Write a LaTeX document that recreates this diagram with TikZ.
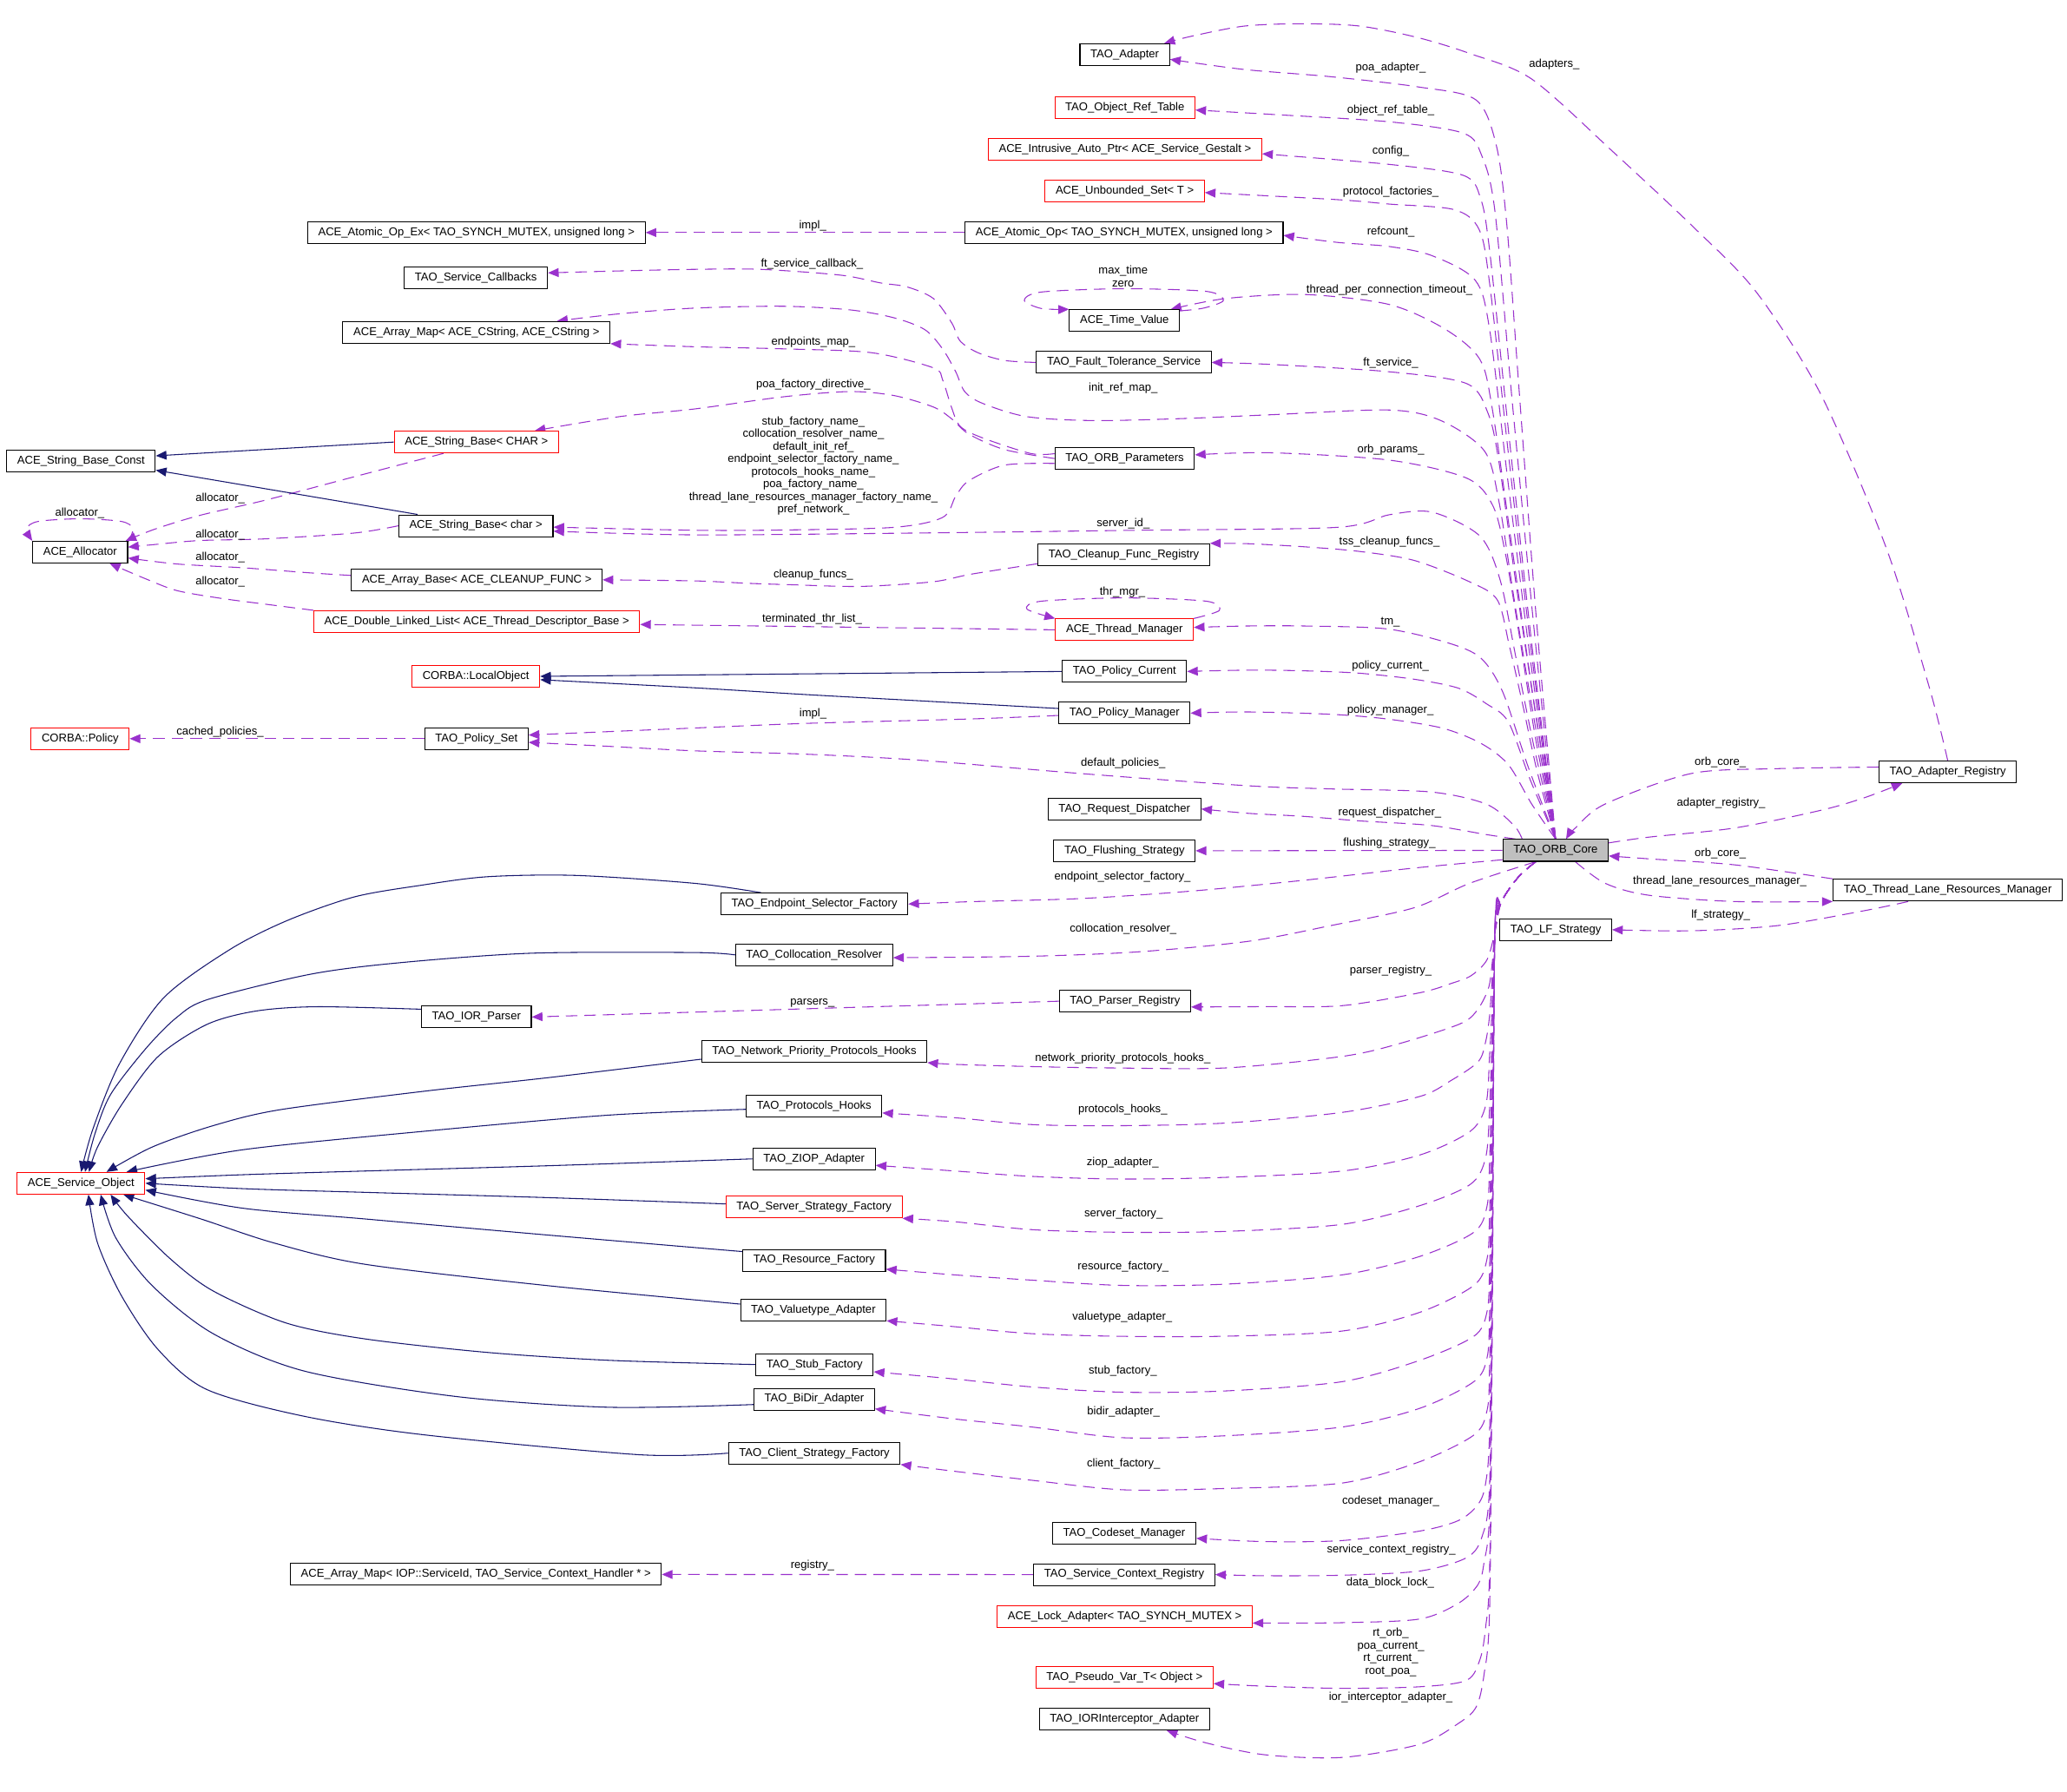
\documentclass[tikz,border=0pt]{standalone}
\usepackage{fontspec}
\usepackage{xcolor}
\usepackage{tikz}
\usetikzlibrary{arrows.meta, backgrounds}
\newfontfamily\dgfam{Liberation Sans}
\newcommand{\dgf}{\dgfam\fontsize{4.9}{5.45}\selectfont}
\definecolor{memc}{RGB}{154,50,205}
\definecolor{inhc}{RGB}{25,25,112}
\definecolor{corec}{RGB}{191,191,191}

\tikzset{
  cls/.style={draw=black, line width=0.4pt, fill=white, inner xsep=0.16cm, inner ysep=0pt, minimum height=0.33cm, font=\dgf},
  rcls/.style={cls, draw=red},
  mem/.style={draw=memc, line width=0.4pt, dash pattern=on 5pt off 3pt, -{Triangle[length=4.6pt,width=3.8pt]}},
  inh/.style={draw=inhc, line width=0.4pt, -{Triangle[length=4.6pt,width=3.8pt]}},
  lbl/.style={font=\dgf, inner sep=0pt, text height=3.6pt, text depth=1.1pt},
  lbls/.style={font=\dgf, inner sep=0pt, align=center},
}

\begin{document}
\begin{tikzpicture}[x=0.02cm, y=-0.02cm]

\useasboundingbox (0,0) rectangle (1568,1359);
\begin{scope}[on background layer]
  \fill[white] (0,0) rectangle (1568,1359);
\end{scope}

%% -- classes, left columns ------------------------------------------
\node[cls]  (bsc)   at (61.5,349.7) {ACE\_String\_Base\_Const};
\node[cls]  (alloc) at (60.8,418.8) {ACE\_Allocator};
\node[rcls] (cpol)  at (60.8,560.3) {CORBA::Policy};
\node[rcls] (so)    at (61.5,897.5) {ACE\_Service\_Object};

\node[cls]  (aopex)   at (361.4,176.4) {ACE\_Atomic\_Op\_Ex< TAO\_SYNCH\_MUTEX, unsigned long >};
\node[cls]  (scb)     at (361,210.8)   {TAO\_Service\_Callbacks};
\node[cls]  (amap)    at (361.4,252.1) {ACE\_Array\_Map< ACE\_CString, ACE\_CString >};
\node[rcls] (sbCHAR)  at (361.4,335.3) {ACE\_String\_Base< CHAR >};
\node[cls]  (sbchar)  at (361,398.8)   {ACE\_String\_Base< char >};
\node[cls]  (abase)   at (361.7,439.8) {ACE\_Array\_Base< ACE\_CLEANUP\_FUNC >};
\node[rcls] (dll)     at (361.7,471.5) {ACE\_Double\_Linked\_List< ACE\_Thread\_Descriptor\_Base >};
\node[rcls] (lobj)    at (361,513)     {CORBA::LocalObject};
\node[cls]  (pset)    at (361.4,560.3) {TAO\_Policy\_Set};
\node[cls]  (iorp)    at (361.4,771.4) {TAO\_IOR\_Parser};
\node[cls]  (amapiop) at (361,1194.2)  {ACE\_Array\_Map< IOP::ServiceId, TAO\_Service\_Context\_Handler * >};

\node[cls]  (esf)    at (617.8,685.7)  {TAO\_Endpoint\_Selector\_Factory};
\node[cls]  (colres) at (617.6,724.3)  {TAO\_Collocation\_Resolver};
\node[cls]  (npph)   at (617.7,797.4)  {TAO\_Network\_Priority\_Protocols\_Hooks};
\node[cls]  (phooks) at (617.5,838.7)  {TAO\_Protocols\_Hooks};
\node[cls]  (ziop)   at (617.5,879)    {TAO\_ZIOP\_Adapter};
\node[rcls] (ssf)    at (617.5,915.5)  {TAO\_Server\_Strategy\_Factory};
\node[cls]  (rfac)   at (617.6,956)    {TAO\_Resource\_Factory};
\node[cls]  (vtad)   at (617,994)      {TAO\_Valuetype\_Adapter};
\node[cls]  (stubf)  at (617.9,1035)   {TAO\_Stub\_Factory};
\node[cls]  (bidir)  at (617.7,1061.3) {TAO\_BiDir\_Adapter};
\node[cls]  (csf)    at (617.7,1102.2) {TAO\_Client\_Strategy\_Factory};

%% -- classes, member column -----------------------------------------
\node[cls]  (adapter) at (853.2,41.4)  {TAO\_Adapter};
\node[rcls] (ort)     at (853.3,81.6)  {TAO\_Object\_Ref\_Table};
\node[rcls] (iap)     at (853.4,113)   {ACE\_Intrusive\_Auto\_Ptr< ACE\_Service\_Gestalt >};
\node[rcls] (uset)    at (853.2,145)   {ACE\_Unbounded\_Set< T >};
\node[cls]  (aop)     at (852.7,176.4) {ACE\_Atomic\_Op< TAO\_SYNCH\_MUTEX, unsigned long >};
\node[cls]  (tv)      at (853,243.2)   {ACE\_Time\_Value};
\node[cls]  (fts)     at (852.5,274.9) {TAO\_Fault\_Tolerance\_Service};
\node[cls]  (orbp)    at (853.2,347.8) {TAO\_ORB\_Parameters};
\node[cls]  (cfr)     at (852.5,420.7) {TAO\_Cleanup\_Func\_Registry};
\node[rcls] (tmgr)    at (853,477.7)   {ACE\_Thread\_Manager};
\node[cls]  (pcur)    at (853,509.3)   {TAO\_Policy\_Current};
\node[cls]  (pman)    at (853,540.9)   {TAO\_Policy\_Manager};
\node[cls]  (rdisp)   at (853,613.6)   {TAO\_Request\_Dispatcher};
\node[cls]  (flush)   at (853,645.3)   {TAO\_Flushing\_Strategy};
\node[cls]  (preg)    at (853.4,759.4) {TAO\_Parser\_Registry};
\node[cls]  (csm)     at (852.8,1163)  {TAO\_Codeset\_Manager};
\node[cls]  (scr)     at (852.8,1194.3) {TAO\_Service\_Context\_Registry};
\node[rcls] (lock)    at (853.2,1226)  {ACE\_Lock\_Adapter< TAO\_SYNCH\_MUTEX >};
\node[rcls] (pvar)    at (853,1272.3)  {TAO\_Pseudo\_Var\_T< Object >};
\node[cls]  (iorint)  at (853,1304)    {TAO\_IORInterceptor\_Adapter};

%% -- core and right side --------------------------------------------
\node[cls, fill=corec] (core) at (1180,645) {TAO\_ORB\_Core};
\node[cls] (lfs)  at (1180.2,705.2) {TAO\_LF\_Strategy};
\node[cls] (areg) at (1477.5,585.5) {TAO\_Adapter\_Registry};
\node[cls] (tlrm) at (1477.5,675.2) {TAO\_Thread\_Lane\_Resources\_Manager};
\coordinate (cb) at ([xshift=-0.3cm]core.south);

\begin{scope}[on background layer]
%% -- core -> members above ------------------------------------------
\draw[mem] plot[smooth] coordinates {(core.north) (1165,464) (1152,291) (1143,170) (1135,110) (1119.5,75.7) (1075.6,65.9) (1009.7,58.2) (943.8,52.7) (adapter.-6)};
\draw[mem] plot[smooth] coordinates {(core.north) (1163,470) (1147,303) (1134,160) (1124,118) (1110,101) (1054,92.4) (963.6,86.7) (ort.-2)};
\draw[mem] plot[smooth] coordinates {(core.north) (1161,480) (1144,324) (1130,190) (1123,150) (1110,133) (1054,124.7) (iap.-2)};
\draw[mem] plot[smooth] coordinates {(core.north) (1161,489) (1144,342) (1130,215) (1122,174) (1103,159) (1054,154.8) (1014,151.4) (uset.-1)};
\draw[mem] plot[smooth] coordinates {(core.north) (1161,501) (1144,366) (1130,250) (1119,212.5) (1086.5,194) (1054,187) (1014,183.8) (aop.-1)};
\draw[mem] plot[smooth] coordinates {(core.north) (1162,522) (1146,408) (1132,310) (1122.6,272.6) (1096,249.5) (1054,231) (990.5,223.4) (930,226.4) ([xshift=-0.14cm]tv.north east)};
\draw[mem] plot[smooth] coordinates {(core.north) (1164,536) (1149,436) (1137,350) (1129,314) (1112.7,291) (1054,282) (963.6,276.4) (fts.east)};
\draw[mem] plot[smooth] coordinates {(core.north) (1164,547) (1149,457) (1137,380) (1126,342) (1093,319) (1054,311) (963.6,314.6) (896.4,317.5) (829.2,319) (778.8,316) (745,305.8) (731.8,297) (725,282) (715,264.6) (701.5,250) (678,241) (644.4,235) (594,232.3) (526.8,233.7) (470,238) (amap.8)};
\draw[mem] plot[smooth] coordinates {(core.north) (1165,561) (1153,485) (1142,420) (1132.4,383.5) (1112.7,362.7) (1054,349) (963.6,343.4) (orbp.3)};
\draw[mem] plot[smooth] coordinates {(core.north) (1164,568) (1150,499) (1138,440) (1122.6,406.6) (1086.5,388.5) (1054,390.4) (1014,400) (862.8,402.2) (694.8,404.3) (526.8,405.7) (sbchar.-4)};
\draw[mem] plot[smooth] coordinates {(core.north) (1166,585) (1155,534) (1145,490) (1135.8,455) (1114.8,441.3) (1072.8,425.1) (1030.8,418.2) (988.8,414.7) (946.8,412.4) (cfr.north east)};
\draw[mem] plot[smooth] coordinates {(core.north) (1159,581) (1140,525) (1123.2,499) (1098,487.5) (1051.8,477) (988.8,474.8) (946.8,474.8) (tmgr.2)};
\draw[mem] plot[smooth] coordinates {(core.north) (1161,592) (1144.2,547.6) (1127.4,533.7) (1106.4,522) (1072.8,515.2) (1030.8,510.6) (988.8,508.8) (946.8,508.3) (pcur.east)};
\draw[mem] plot[smooth] coordinates {(core.north) (1162,610) (1144.2,580) (1123.2,563.7) (1093.8,552.2) (1051.8,545.3) (1009.8,541.8) (946.8,540) (pman.east)};
\draw[mem] plot[smooth] coordinates {([xshift=0.3cm]core.north west) (1148.4,626) (1127.4,609.9) (1085.4,600.7) (1009.8,598.4) (946.8,596) (820.8,586.8) (694.8,576.4) (610,572) (526.8,569.5) (460,566) (pset.-4)};
\draw[mem] plot[smooth] coordinates {([xshift=0.2cm]core.north west) (1127.4,633) (1085.4,626.1) (1030.8,622.6) (988.8,619.2) (946.8,616.9) (rdisp.east)};
\draw[mem] (core.west) -- (flush.east);
\draw[mem] plot[smooth] coordinates {(core.190) (1072.8,658.4) (988.8,667.7) (904.8,675.8) (820.8,681.5) (736.8,683.9) (esf.east)};
\draw[mem] plot[smooth] coordinates {(cb) (1114.8,670) (1072.8,688.5) (1009.8,702) (946.8,714) (862.8,722) (778.8,725.4) (colres.-2)};

%% -- right side -----------------------------------------------------
\draw[mem] plot[smooth] coordinates {(core.8) (1250.5,635) (1316,628) (1381.7,614.5) (1414.5,605) (areg.194)};
\draw[mem] plot[smooth] coordinates {(areg.176) (1349,583) (1283,586.7) (1217.7,609.8) (1194.7,628.3) ([xshift=0.16cm]core.north)};
\draw[mem] plot[smooth] coordinates {(areg.north) (1463.7,522) (1431,416) (1381.7,300) (1332.5,221.8) (1283.3,171) (1224,115.5) (1162,60) (1115,40.6) (1075.5,28.5) (1031.7,19.8) (987.8,18) (943.8,19.8) (904.2,27.4) (adapter.16)};
\draw[mem] plot[smooth] coordinates {(tlrm.north west) (1316,656) (1250.5,651.4) (core.-6)};
\draw[mem] plot[smooth] coordinates {([xshift=0.3cm]core.south) (1217.7,670) (1250.5,679) (1316,683.8) (tlrm.south west)};
\draw[mem] plot[smooth] coordinates {([xshift=-0.6cm]tlrm.south) (1414.5,690.7) (1349,702) (1283.3,706) (lfs.east)};

%% -- core -> members below ------------------------------------------
\draw[mem] plot[smooth] coordinates {(cb) (1152,665) (1139,684) (1134,707) (1128,728) (1116,740) (1100.7,746) (1077,753) (1018,762.8) (960,763.5) (preg.-5)};
\draw[mem] plot[smooth] coordinates {(cb) (1152,665) (1139,684) (1134,707) (1132,730) (1129,750) (1120,767) (1106.6,777) (1060,792) (1018,801.3) (930,810) (842,810) (783,809) (724,807.3) (npph.south east)};
\draw[mem] plot[smooth] coordinates {(cb) (1152,665) (1139,684) (1134,707) (1132,740) (1130,770) (1127,790) (1121.3,805.3) (1100,820) (1077.2,831.6) (1018.4,843.7) (930.2,851.8) (851.7,853.8) (783.2,853) (724.4,847.8) (phooks.-6)};
\draw[mem] plot[smooth] coordinates {(cb) (1152,665) (1139,684) (1134,707) (1132,760) (1130,800) (1127.2,837.7) (1115.4,858) (1077.2,876) (1018.4,888.2) (930,893) (851.7,894.3) (783.2,892.3) (724.4,888.2) (ziop.-6)};
\draw[mem] plot[smooth] coordinates {(cb) (1152,665) (1139,684) (1134,707) (1132,780) (1130,840) (1127,878) (1115.4,898.3) (1077,914.5) (1018,928.7) (930,934) (852,934.7) (783.2,932.7) (724.4,926.7) (ssf.south east)};
\draw[mem] plot[smooth] coordinates {(cb) (1152,665) (1139,684) (1134,707) (1132,800) (1130,880) (1128,915) (1118,934.7) (1077,953) (1018,967) (930,974) (852,975) (783,971) (724.4,967) (rfac.-7)};
\draw[mem] plot[smooth] coordinates {(cb) (1152,665) (1139,684) (1134,707) (1132,820) (1130,920) (1128,955) (1118,975) (1077,995.4) (1018,1009.6) (930,1013.5) (852,1013.6) (783,1011.6) (724.4,1006.3) (vtad.-8)};
\draw[mem] plot[smooth] coordinates {(cb) (1152,665) (1139,684) (1134,707) (1132,850) (1130,960) (1128,995) (1118,1013.6) (1077,1031.8) (1018,1048) (930,1055) (852,1056) (783,1052) (724.4,1046) (stubf.-7)};
\draw[mem] plot[smooth] coordinates {(cb) (1152,665) (1139,684) (1134,707) (1132,880) (1130,995) (1128,1030) (1118,1048) (1077,1068.2) (1018,1082.4) (930,1089) (852,1090.5) (783,1082.4) (724.4,1076.3) (bidir.-9)};
\draw[mem] plot[smooth] coordinates {(cb) (1152,665) (1139,684) (1134,707) (1132,900) (1130,1035) (1128,1070) (1118,1088.5) (1077,1108.7) (1018,1124.9) (930,1129) (852,1130) (783,1122.8) (724.4,1116) (csf.south east)};
\draw[mem] plot[smooth] coordinates {(cb) (1152,665) (1139,684) (1134,707) (1132,930) (1130,1085) (1127,1124.9) (1121.3,1141) (1106.6,1153.2) (1077,1161.3) (1018,1168.5) (959.6,1169.3) (csm.-4)};
\draw[mem] plot[smooth] coordinates {(cb) (1152,665) (1139,684) (1134,707) (1132,950) (1130,1125) (1124.3,1165.3) (1112.5,1181.5) (1077,1191.6) (1018,1194.8) (960,1195.2) (scr.east)};
\draw[mem] plot[smooth] coordinates {(cb) (1152,665) (1139,684) (1134,707) (1132,970) (1130,1145) (1125.7,1185.5) (1121.3,1201.7) (1106.6,1215.9) (1077,1228) (1018,1230.8) (lock.-3)};
\draw[mem] plot[smooth] coordinates {(cb) (1152,665) (1139,684) (1134,707) (1132,990) (1130,1190) (1127,1234) (1122.8,1258.3) (1112.5,1274.5) (1077,1279.4) (1018,1280.6) (960,1279) (pvar.-4)};
\draw[mem] plot[smooth] coordinates {(cb) (1152,665) (1139,684) (1134,707) (1132,1010) (1130,1220) (1125.7,1270.5) (1119.8,1294.7) (1106.6,1307) (1077,1323) (1018,1333) (959.6,1331) (915,1322) (iorint.-15)};

%% -- members of members ---------------------------------------------
\draw[mem] (aop) -- (aopex);
\draw[mem] plot[smooth] coordinates {(fts.west) (762,273.4) (741.8,267.5) (728.4,258.7) (722,245) (708,226.4) (688,217.6) (668,214.6) (637.7,208.7) (577,204.3) (526.8,204.3) (470,205.5) (scb.4)};
\draw[mem] plot[smooth] coordinates {(orbp.176) (782,344) (745,332) (728.4,323.4) (721.7,308.7) (715,288) (708,279) (661,267.5) (594,264.6) (526.8,263) (amap.south east)};
\draw[mem] plot[smooth] coordinates {(orbp.180) (762,341) (735,329.3) (721.7,317.5) (708,308.7) (678,300) (644.4,297) (594,301) (526.8,310.2) (470,316) (sbCHAR.11)};
\draw[mem] plot[smooth] coordinates {(orbp.184) (762,352.8) (735,364.6) (725,376.3) (715,392.5) (678,400) (594,402) (526.8,402.2) (sbchar.-1)};
\draw[mem] plot[smooth] coordinates {(tv.10) (913,233.7) (928,227.9) (915,221) (852,219) (790,221.5) (777,227.9) (790,234) (tv.north west)};
\draw[mem] plot[smooth] coordinates {(tmgr.north east) (925,463) (915,456) (853,453.5) (790,456) (779,462) (tmgr.north west)};
\draw[mem] (tmgr.west) -- (dll.-1);
\draw[mem] plot[smooth] coordinates {(cfr.186) (736.8,435.5) (707.4,441.3) (652.8,444.8) (600,443.5) (568.8,442.5) (526.8,440.6) (abase.east)};
\draw[mem] plot[smooth] coordinates {(sbCHAR.199) (268.8,361.6) (201.6,379.3) (151.2,391) (117.6,401.3) (alloc.14)};
\draw[mem] plot[smooth] coordinates {(sbchar.west) (268.8,404.3) (201.6,408.7) (151.2,410) (117.6,413) (alloc.6)};
\draw[mem] plot[smooth] coordinates {(abase.178) (235,434.5) (184.8,430.7) (134.4,427.8) (alloc.-7)};
\draw[mem] plot[smooth] coordinates {(dll.north west) (201.6,458.3) (168,453.9) (134.4,448) (110.9,439.2) (alloc.-21)};
\draw[mem] plot[smooth] coordinates {(alloc.12) (100.8,401) (92,395.5) (60.5,393.5) (29,395.5) (20.2,401) (alloc.north west)};
\draw[mem] plot[smooth] coordinates {(pman.182) (736.8,545.3) (610.8,548.7) (526.8,552.2) (460,555) (pset.4)};
\draw[mem] (pset) -- (cpol);
\draw[mem] (preg.west) -- (iorp.east);
\draw[mem] (scr) -- (amapiop);

%% -- inheritance ----------------------------------------------------
\draw[inh] (sbCHAR.west) -- (bsc.4);
\draw[inh] (sbchar.169) -- (bsc.-7);
\draw[inh] (pcur.west) -- (lobj.east);
\draw[inh] plot[smooth] coordinates {(pman.176) (694.8,531.4) (610.8,526.8) (526.8,521.7) (lobj.-3)};
\draw[inh] plot[smooth] coordinates {(esf.168) (526.8,670) (436.8,664) (369.6,665) (319.2,671.5) (268.8,680.3) (218.4,698) (174.7,720) (124.3,756.7) (90.7,806.7) (70.6,856) (so.north)};
\draw[inh] plot[smooth] coordinates {(colres.west) (526.8,722.5) (403.2,723) (302.4,730.3) (235.2,739) (158,758) (134.4,771.4) (110.9,795) (84,830) (72,860) ([xshift=0.06cm]so.north)};
\draw[inh] plot[smooth] coordinates {(iorp.172) (240,763.6) (194,766.9) (157,777) (120,801.3) (92.4,837.7) (74,870) ([xshift=0.12cm]so.north)};
\draw[inh] plot[smooth] coordinates {(npph.184) (415.8,817.4) (323.4,827.5) (212.5,841.7) (161.7,853.8) (115.5,870) (so.24)};
\draw[inh] plot[smooth] coordinates {(phooks.183) (462,845.8) (323.4,857.9) (184.8,872) (so.14)};
\draw[inh] plot[smooth] coordinates {(ziop.west) (415.8,884.2) (277.2,888.2) (184.8,891) (so.4)};
\draw[inh] plot[smooth] coordinates {(ssf.178) (415.8,908.4) (277.2,904.4) (184.8,901.6) (so.east)};
\draw[inh] plot[smooth] coordinates {(rfac.173) (415.8,936.8) (277.2,924.6) (184.8,916.5) (so.-6)};
\draw[inh] plot[smooth] coordinates {(vtad.175) (415.8,975.2) (277.2,959) (207.9,942.8) (152.5,924.6) (so.-15)};
\draw[inh] plot[smooth] coordinates {(stubf.west) (462,1031.8) (369.6,1025.8) (277.2,1015.6) (217.1,1003.5) (161.7,979.2) (129.4,955) (97,922.6) (so.-21)};
\draw[inh] plot[smooth] coordinates {(bidir.185) (462,1067.4) (346.5,1059.3) (231,1040) (161.7,1011.6) (115.5,975.2) (87.8,938.8) (so.-30)};
\draw[inh] plot[smooth] coordinates {(csf.west) (485,1103.4) (323.4,1088.5) (231,1074.3) (157,1054) (120,1023.7) (92.4,983.3) (74,942.8) (so.-57)};
\end{scope}

%% -- edge labels ----------------------------------------------------
\node[lbl] (lpoa)  at (1055,51.5)  {poa\_adapter\_};
\node[lbl] (lort)  at (1055,84)    {object\_ref\_table\_};
\node[lbl] (lcfg)  at (1055,115)   {config\_};
\node[lbl] (lpf)   at (1055,145.5) {protocol\_factories\_};
\node[lbl] (lref)  at (1055,176)   {refcount\_};
\node[lbl] (ltpc)  at (1054,220)   {thread\_per\_connection\_timeout\_};
\node[lbl] (lfts)  at (1055,275.5) {ft\_service\_};
\node[lbl] (lirm)  at (852,294.6)  {init\_ref\_map\_};
\node[lbl] (lorbp) at (1055,341)   {orb\_params\_};
\node[lbl] (lsid)  at (852,397)    {server\_id\_};
\node[lbl] (ltss)  at (1054,410.8) {tss\_cleanup\_funcs\_};
\node[lbl] (ltm)   at (1054.7,471.3) {tm\_};
\node[lbl] (lpcur) at (1054.7,505) {policy\_current\_};
\node[lbl] (lpman) at (1054.7,538.8) {policy\_manager\_};
\node[lbl] (ldefp) at (852,578.7)  {default\_policies\_};
\node[lbl] (lrd)   at (1054.3,616.2) {request\_dispatcher\_};
\node[lbl] (lfl)   at (1054,639.5) {flushing\_strategy\_};
\node[lbl] (lesf)  at (851.5,665.4) {endpoint\_selector\_factory\_};
\node[lbl] (lcr)   at (852,705)    {collocation\_resolver\_};
\node[lbl] (lpr)   at (1055,736.5) {parser\_registry\_};
\node[lbl] (lnpph) at (851.7,802.9) {network\_priority\_protocols\_hooks\_};
\node[lbl] (lph)   at (851.7,841.7) {protocols\_hooks\_};
\node[lbl] (lziop) at (851.7,881.8) {ziop\_adapter\_};
\node[lbl] (lssf)  at (852.3,921)  {server\_factory\_};
\node[lbl] (lrf)   at (852,961)    {resource\_factory\_};
\node[lbl] (lvt)   at (851.4,999)  {valuetype\_adapter\_};
\node[lbl] (lsf)   at (851.7,1039.9) {stub\_factory\_};
\node[lbl] (lbd)   at (852.3,1071) {bidir\_adapter\_};
\node[lbl] (lcf)   at (852.3,1110.3) {client\_factory\_};
\node[lbl] (lcsm)  at (1055,1139)  {codeset\_manager\_};
\node[lbl] (lscr)  at (1055.4,1175.4) {service\_context\_registry\_};
\node[lbl] (ldbl)  at (1054.6,1200.5) {data\_block\_lock\_};
\node[lbls] (lpv)  at (1055,1253.4) {rt\_orb\_\\poa\_current\_\\rt\_current\_\\root\_poa\_};
\node[lbl] (lior)  at (1055,1287.5) {ior\_interceptor\_adapter\_};
\node[lbl] (lads)  at (1179,49)    {adapters\_};
\node[lbl] (loc1)  at (1305,578.4) {orb\_core\_};
\node[lbl] (lar)   at (1305.6,609.4) {adapter\_registry\_};
\node[lbl] (loc2)  at (1305,647.3) {orb\_core\_};
\node[lbl] (ltlrm) at (1304.6,668.5) {thread\_lane\_resources\_manager\_};
\node[lbl] (llf)   at (1305.3,694.4) {lf\_strategy\_};
\node[lbl] (limpl) at (616.5,171)  {impl\_};
\node[lbl] (lftc)  at (616,200)    {ft\_service\_callback\_};
\node[lbl] (lepm)  at (617,259.3)  {endpoints\_map\_};
\node[lbl] (lpfd)  at (617,291.6)  {poa\_factory\_directive\_};
\node[lbls] (lnames) at (617,353.4) {stub\_factory\_name\_\\collocation\_resolver\_name\_\\default\_init\_ref\_\\endpoint\_selector\_factory\_name\_\\protocols\_hooks\_name\_\\poa\_factory\_name\_\\thread\_lane\_resources\_manager\_factory\_name\_\\pref\_network\_};
\node[lbls] (ltv)  at (852,209.6)  {max\_time\\zero};
\node[lbl] (lthr)  at (851.5,449)  {thr\_mgr\_};
\node[lbl] (lterm) at (616,469.7)  {terminated\_thr\_list\_};
\node[lbl] (lcfn)  at (617,435.8)  {cleanup\_funcs\_};
\node[lbl] (la1)   at (167,378)    {allocator\_};
\node[lbl] (la2)   at (167,405.7)  {allocator\_};
\node[lbl] (la3)   at (167,422.8)  {allocator\_};
\node[lbl] (la4)   at (167,441.6)  {allocator\_};
\node[lbl] (la5)   at (60.5,389.6) {allocator\_};
\node[lbl] (limpl2) at (616.7,541.6) {impl\_};
\node[lbl] (lcp)   at (167,555)    {cached\_policies\_};
\node[lbl] (lpars) at (616.3,760)  {parsers\_};
\node[lbl] (lreg)  at (616.3,1187.6) {registry\_};

\end{tikzpicture}
\end{document}
